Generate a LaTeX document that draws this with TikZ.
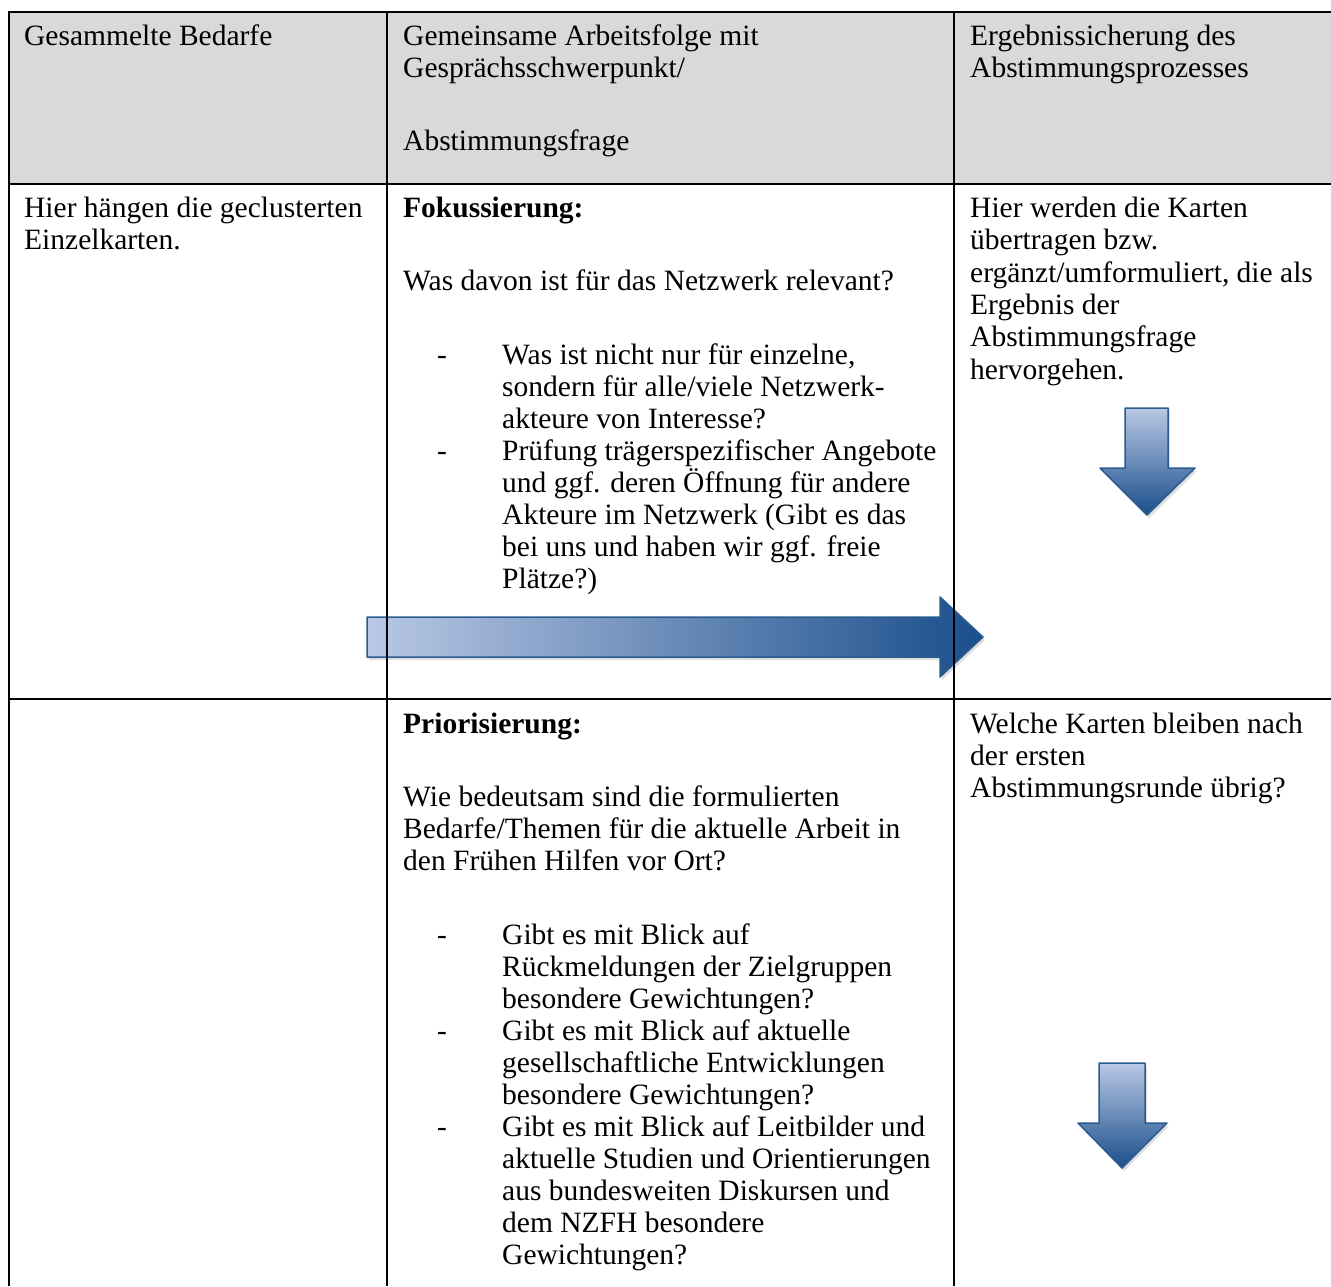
\documentclass[tikz,border=0pt]{standalone}
\usepackage{fontspec}
\setmainfont{Liberation Serif}
\usetikzlibrary{shadows}
\definecolor{hdr}{HTML}{D9D9D9}
\definecolor{arlight}{HTML}{B9C8E5}
\definecolor{armid}{HTML}{8CA5CD}
\definecolor{ardark}{HTML}{1A4E8B}
\definecolor{arline}{HTML}{2B5C8F}
\tikzset{
  txt/.style={anchor=base west, inner sep=0pt, font=\fontsize{29.5}{32}\selectfont},
  bld/.style={anchor=base west, inner sep=0pt, font=\fontsize{29.5}{32}\selectfont\bfseries},
  gridline/.style={line width=1.4pt, black},
  arrowshape/.style={draw=arline, line width=1.5pt, line join=round,
    drop shadow={shadow xshift=2pt, shadow yshift=-3pt, opacity=0.25}},
}
\begin{document}
\begin{tikzpicture}[x=1pt,y=-1pt]
\useasboundingbox (0,0) rectangle (1331,1286);
\fill[white] (0,0) rectangle (1331,1286);
% header fill
\fill[hdr] (9,12) rectangle (1331,184);

% arrows
\path[arrowshape, left color=arlight, middle color=armid, right color=ardark]
  (367,617) -- (940,617) -- (940,597) -- (983,637) -- (940,677) -- (940,657) -- (367,657) -- cycle;
\path[arrowshape, top color=arlight, bottom color=ardark]
  (1125,408) -- (1168,408) -- (1168,468) -- (1195,468) -- (1147,515) -- (1100,468) -- (1125,468) -- cycle;
\path[arrowshape, top color=arlight, bottom color=ardark]
  (1099,1063) -- (1145,1063) -- (1145,1123) -- (1167,1123) -- (1122,1168) -- (1078,1123) -- (1099,1123) -- cycle;

% grid
\draw[gridline, line width=2pt] (8,12) -- (1331,12);
\draw[gridline] (9,12) -- (9,1286);
\draw[gridline] (387,12) -- (387,1286);
\draw[gridline] (954,12) -- (954,1286);
\draw[gridline, line width=1.8pt] (9,184) -- (1331,184);
\draw[gridline] (9,699) -- (1331,699);

% header texts
\node[txt] (h1) at (24,45) {Gesammelte Bedarfe};
\node[txt] (h2a) at (403,45) {Gemeinsame Arbeitsfolge mit};
\node[txt] (h2b) at (403,77) {Gesprächsschwerpunkt/};
\node[txt] (h2c) at (403,150) {Abstimmungsfrage};
\node[txt] (h3a) at (970,45) {Ergebnissicherung des};
\node[txt] (h3b) at (970,77) {Abstimmungsprozesses};

% row 2, column 1
\node[txt] (a1) at (24,217) {Hier hängen die geclusterten};
\node[txt] (a2) at (24,249) {Einzelkarten.};

% row 2, column 2
\node[bld] (b0) at (403,217) {Fokussierung:};
\node[txt] (b1) at (403,290) {Was davon ist für das Netzwerk relevant?};
\node[txt] (bd1) at (437,364) {-};
\node[txt] (b2) at (502,364) {Was ist nicht nur für einzelne,};
\node[txt] (b3) at (502,396) {sondern für alle/viele Netzwerk-};
\node[txt] (b4) at (502,428) {akteure von Interesse?};
\node[txt] (bd2) at (437,460) {-};
\node[txt] (b5) at (502,460) {Prüfung trägerspezifischer Angebote};
\node[txt] (b6) at (502,492) {und ggf. deren Öffnung für andere};
\node[txt] (b7) at (502,524) {Akteure im Netzwerk (Gibt es das};
\node[txt] (b8) at (502,556) {bei uns und haben wir ggf. freie};
\node[txt] (b9) at (502,588) {Plätze?)};

% row 2, column 3
\node[txt] (c1) at (970,217) {Hier werden die Karten};
\node[txt] (c2) at (970,249) {übertragen bzw.};
\node[txt] (c3) at (970,282) {ergänzt/umformuliert, die als};
\node[txt] (c4) at (970,314) {Ergebnis der};
\node[txt] (c5) at (970,346) {Abstimmungsfrage};
\node[txt] (c6) at (970,379) {hervorgehen.};

% row 3, column 2
\node[bld] (d0) at (403,733) {Priorisierung:};
\node[txt] (d1) at (403,806) {Wie bedeutsam sind die formulierten};
\node[txt] (d2) at (403,838) {Bedarfe/Themen für die aktuelle Arbeit in};
\node[txt] (d3) at (403,870) {den Frühen Hilfen vor Ort?};
\node[txt] (dd1) at (437,944) {-};
\node[txt] (d4) at (502,944) {Gibt es mit Blick auf};
\node[txt] (d5) at (502,976) {Rückmeldungen der Zielgruppen};
\node[txt] (d6) at (502,1008) {besondere Gewichtungen?};
\node[txt] (dd2) at (437,1040) {-};
\node[txt] (d7) at (502,1040) {Gibt es mit Blick auf aktuelle};
\node[txt] (d8) at (502,1072) {gesellschaftliche Entwicklungen};
\node[txt] (d9) at (502,1104) {besondere Gewichtungen?};
\node[txt] (dd3) at (437,1136) {-};
\node[txt] (d10) at (502,1136) {Gibt es mit Blick auf Leitbilder und};
\node[txt] (d11) at (502,1168) {aktuelle Studien und Orientierungen};
\node[txt] (d12) at (502,1200) {aus bundesweiten Diskursen und};
\node[txt] (d13) at (502,1232) {dem NZFH besondere};
\node[txt] (d14) at (502,1264) {Gewichtungen?};

% row 3, column 3
\node[txt] (e1) at (970,733) {Welche Karten bleiben nach};
\node[txt] (e2) at (970,765) {der ersten};
\node[txt] (e3) at (970,797) {Abstimmungsrunde übrig?};
\end{tikzpicture}
\end{document}
